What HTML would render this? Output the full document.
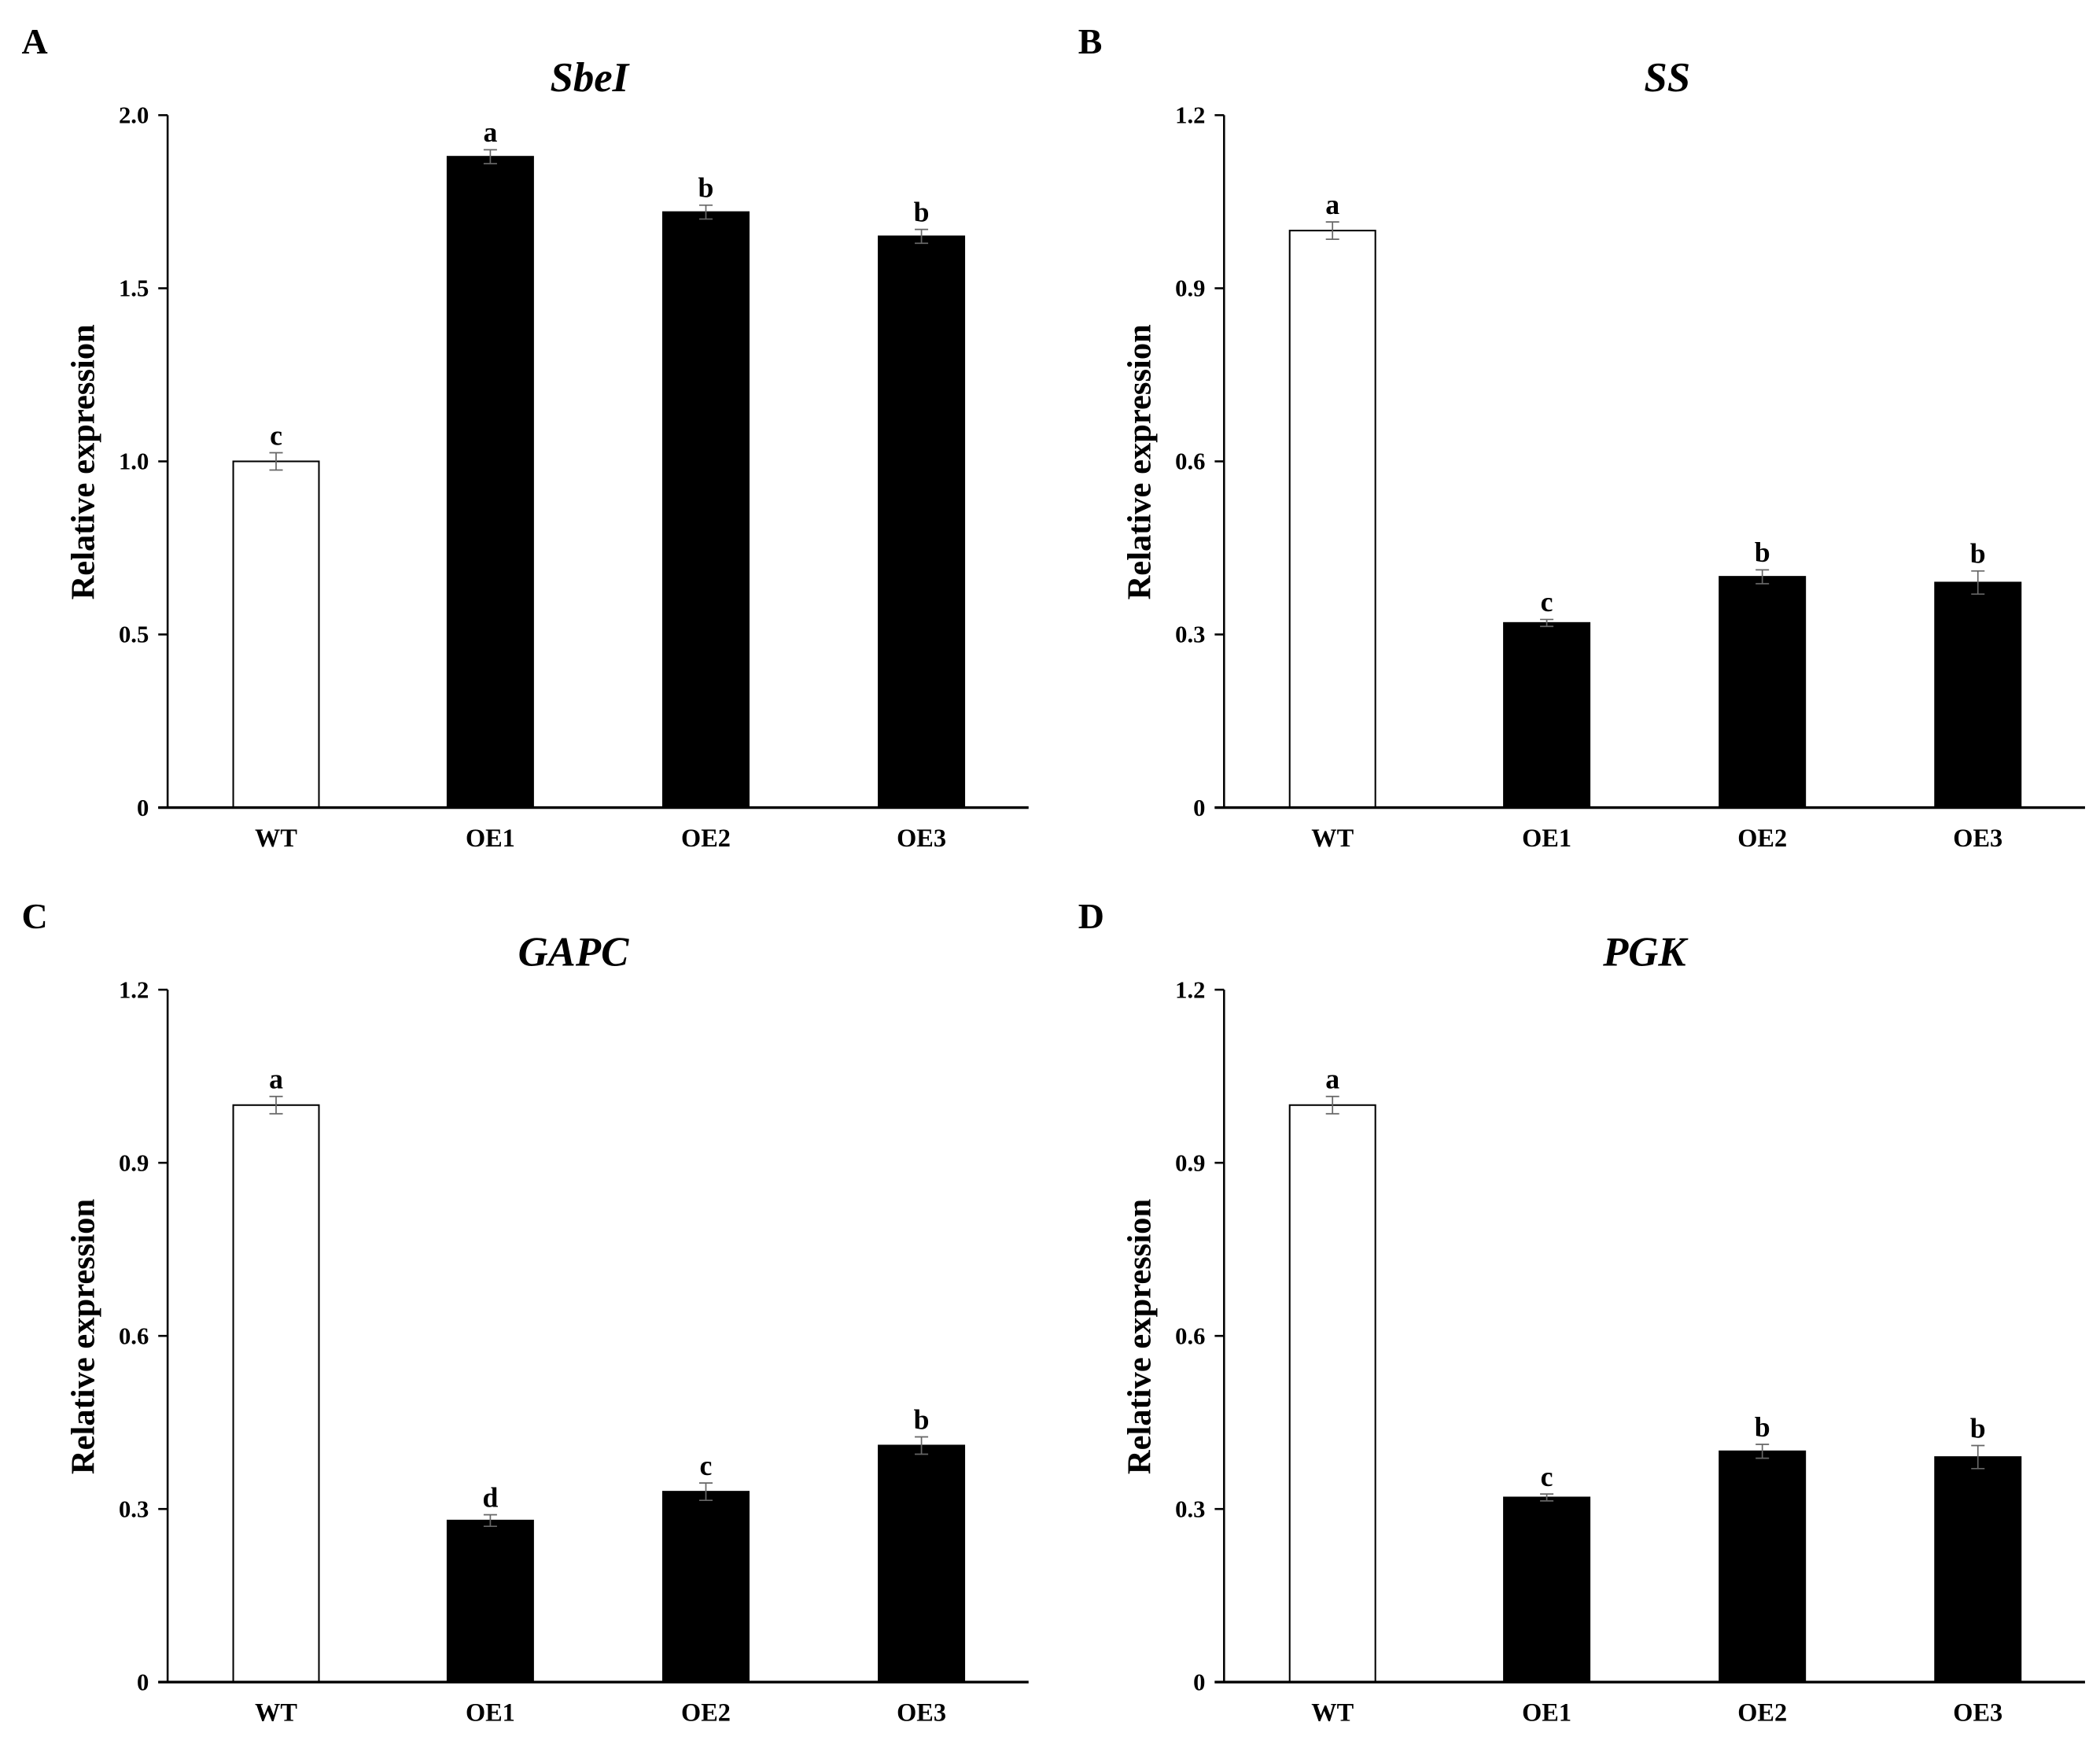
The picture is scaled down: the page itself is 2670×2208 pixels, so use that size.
<!DOCTYPE html>
<html><head><meta charset="utf-8">
<style>html,body{margin:0;padding:0;background:#fff}svg{display:block}text{font-family:"Liberation Serif",serif;font-weight:bold}</style>
</head><body>
<svg id="fig" width="2670" height="2208" viewBox="0 0 1568 1297" xmlns="http://www.w3.org/2000/svg"></svg>
<script>
const categories = ["WT","OE1","OE2","OE3"];
const valuesA = [1.0, 1.88, 1.72, 1.65];
const errorsA = [0.025, 0.02, 0.02, 0.02];
const lettersA = ["c","a","b","b"];
const valuesB = [1.0, 0.32, 0.40, 0.39];
const errorsB = [0.015, 0.006, 0.012, 0.02];
const lettersB = ["a","c","b","b"];
const valuesC = [1.0, 0.28, 0.33, 0.41];
const errorsC = [0.015, 0.01, 0.015, 0.015];
const lettersC = ["a","d","c","b"];
const valuesD = [1.0, 0.32, 0.40, 0.39];
const errorsD = [0.015, 0.006, 0.012, 0.02];
const lettersD = ["a","c","b","b"];
const ticksA = [0, 0.5, 1.0, 1.5, 2.0];
const tickLabelsA = ["0","0.5","1.0","1.5","2.0"];
const ticks12 = [0, 0.3, 0.6, 0.9, 1.2];
const tickLabels12 = ["0","0.3","0.6","0.9","1.2"];

const NS = "http://www.w3.org/2000/svg";
const svg = document.getElementById("fig");
function mk(tag, attrs, parent, text){
  const e = document.createElementNS(NS, tag);
  for (const k in attrs) e.setAttribute(k, attrs[k]);
  if (text !== undefined) e.textContent = text;
  (parent || svg).appendChild(e);
  return e;
}

function panel(ox, oy, letter, title, titleX, vals, errs, lets, ticks, tickLabels, ymax, key){
  const g = mk("g", {});
  
  
  const x0 = ox + 125, yTop = oy + 86, yBot = oy + 603;
  const yScale = v => yBot - (v / ymax) * (yBot - yTop);
  const centers = [206, 366, 527, 688].map(c => c + ox);
  const xScale = i => centers[i];
  const bw = 64;

  const pl = mk("text", {x: ox + 16, y: oy + 40, "font-size": 27}, g, letter);
  
  
  const tt = mk("text", {x: ox + titleX, y: oy + 68, "font-size": 31, "font-style": "italic", "text-anchor": "middle"}, g, title);
  
  

  const yt = mk("text", {transform: `translate(${ox+70},${oy+345}) rotate(-90)`, "font-size": 25, "text-anchor": "middle"}, g, "Relative expression");
  
  

  vals.forEach((v, i) => {
    const y = yScale(v);
    const r = mk("rect", {x: xScale(i) - bw/2, y: y, width: bw, height: yBot - y,
      fill: i === 0 ? "#fff" : "#000", stroke: "#000", "stroke-width": 1.2}, g);
    
    
    const e = errs[i];
    const ye1 = yScale(v + e), ye2 = yScale(v - e);
    const eb = mk("path", {d: `M${xScale(i)},${ye1}V${ye2}M${xScale(i)-5},${ye1}H${xScale(i)+5}M${xScale(i)-5},${ye2}H${xScale(i)+5}`,
      stroke: "#666", "stroke-width": 1, fill: "none"}, g);
    
    
    const lt = mk("text", {x: xScale(i), y: ye1 - 6, "font-size": 21, "text-anchor": "middle"}, g, lets[i]);
    
    
    const xl = mk("text", {x: xScale(i), y: oy + 632, "font-size": 19, "text-anchor": "middle"}, g, categories[i]);
    
    
  });

  const ya = mk("line", {x1: x0, y1: yTop, x2: x0, y2: yBot, stroke: "#000", "stroke-width": 1.5}, g);
  
  
  const xa = mk("line", {x1: x0 - 7, y1: yBot, x2: ox + 768, y2: yBot, stroke: "#000", "stroke-width": 2}, g);
  
  
  ticks.forEach((t, j) => {
    const y = yScale(t);
    const tk = mk("line", {x1: x0 - 7, y1: y, x2: x0, y2: y, stroke: "#000", "stroke-width": 1.5}, g);
    
    
    const tl = mk("text", {x: x0 - 14, y: y + 6, "font-size": 18, "text-anchor": "end"}, g, tickLabels[j]);
    
    
  });
}

panel(0, 0, "A", "SbeI", 440, valuesA, errorsA, lettersA, ticksA, tickLabelsA, 2.0, "a");
panel(789, 0, "B", "SS", 456, valuesB, errorsB, lettersB, ticks12, tickLabels12, 1.2, "b");
panel(0, 653, "C", "GAPC", 428, valuesC, errorsC, lettersC, ticks12, tickLabels12, 1.2, "c");
panel(789, 653, "D", "PGK", 439, valuesD, errorsD, lettersD, ticks12, tickLabels12, 1.2, "d");
</script>
</body></html>
